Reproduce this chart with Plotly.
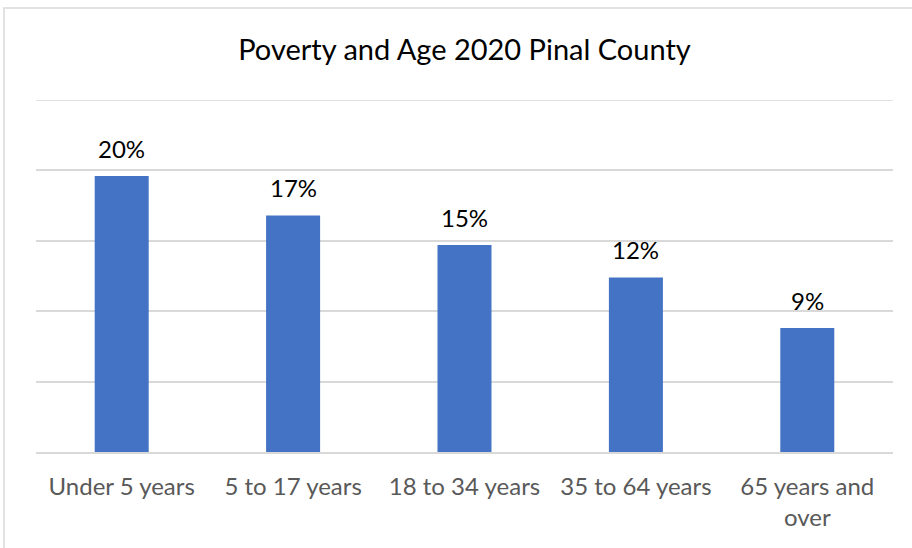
import plotly.graph_objects as go

categories = ["Under 5 years", "5 to 17 years", "18 to 34 years", "35 to 64 years", "65 years and<br>over"]
values = [0.196, 0.168, 0.147, 0.124, 0.088]
labels = ["20%", "17%", "15%", "12%", "9%"]
y_max = 0.25

FONT = "Lato"
fig = go.Figure()
fig.add_trace(go.Bar(x=categories, y=values, marker=dict(color="#4472C4", line=dict(width=0)),
                     hoverinfo="x+y"))

for c, v, t in zip(categories, values, labels):
    fig.add_annotation(x=c, y=v, text=t, showarrow=False, yanchor="bottom", yshift=11,
                       font=dict(family=FONT, size=24, color="#000000"))

fig.update_layout(
    width=912, height=548,
    margin=dict(l=36, r=19, t=100, b=96),
    paper_bgcolor="white", plot_bgcolor="white",
    title=dict(text="Poverty and Age 2020 Pinal County", x=0.5, xref="paper", xanchor="center",
               y=1 - 50/548, yanchor="middle", font=dict(family=FONT, size=29, color="#000000")),
    bargap=0.685,
    showlegend=False,
    xaxis=dict(showgrid=False, showline=True, linecolor="#d9d9d9", linewidth=1.5,
               ticks="", ticklabelstandoff=12,
               tickfont=dict(family=FONT, size=24, color="#595959")),
    yaxis=dict(range=[0, y_max], dtick=0.05, showgrid=True,
               gridcolor="#d9d9d9", gridwidth=1.5,
               showticklabels=False, zeroline=False, fixedrange=True),
    shapes=[
        dict(type="line", xref="paper", yref="y", x0=0, x1=1, y0=y_max, y1=y_max,
             line=dict(color="#d9d9d9", width=1.5), layer="below"),
        dict(type="rect", xref="paper", yref="paper",
             x0=(4-36)/857, x1=1.2, y0=-0.5, y1=1 + (100-8)/352,
             line=dict(color="#d9d9d9", width=1.5), fillcolor="rgba(0,0,0,0)", layer="below"),
    ],
)

fig.write_html("out.html")
